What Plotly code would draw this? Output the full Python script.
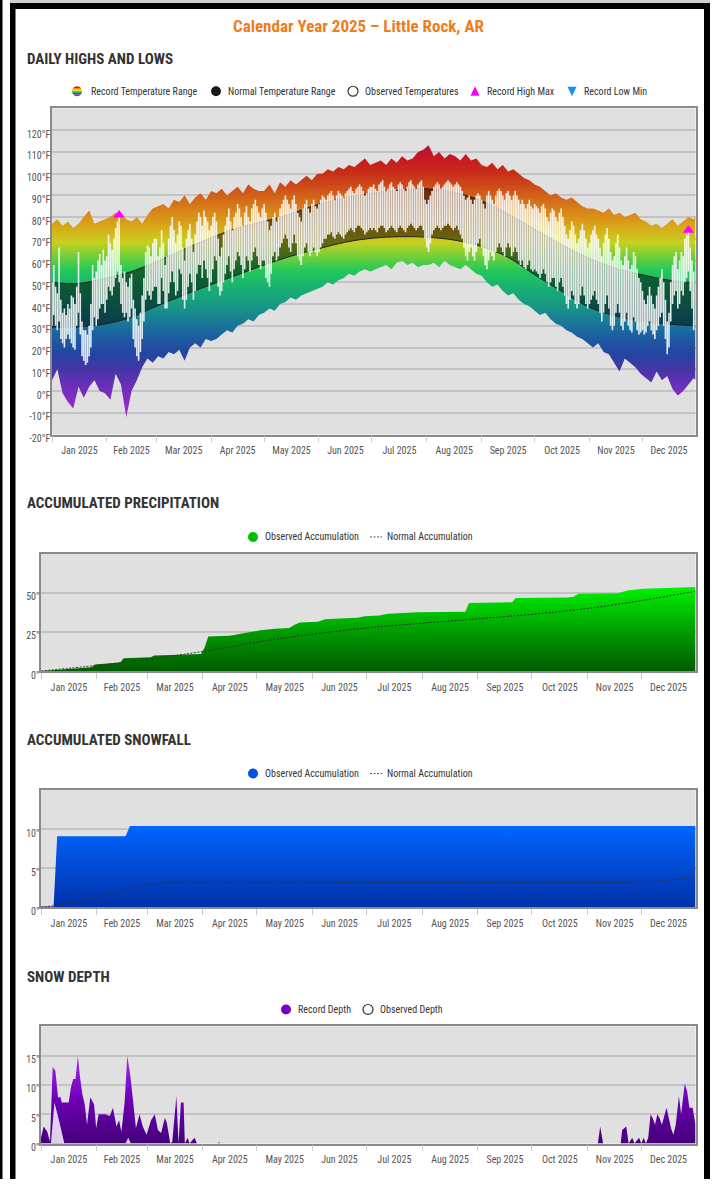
import numpy as np
import pandas as pd
import plotly.graph_objects as go

W, H = 714, 1189
FONT = "Roboto Condensed, Liberation Sans Narrow, DejaVu Sans Condensed, Roboto, sans-serif"

def px(x):
    return x / W

def py(y):
    return 1 - y / H

BASE = pd.Timestamp("2025-01-01")

def to_dates(days):
    return [BASE + pd.Timedelta(days=float(d)) for d in days]

# ---------------- DATA ----------------
# Observed daily highs / lows (deg F), Jan 1 .. Dec 31
obs_hi_jan = [50,58,48,45,66,42,36,38,35,40,38,44,43,40,48,64,45,32,28,28,26,30,40,58,52,55,60,63,58,65,60]
obs_lo_jan = [30,35,30,28,32,24,22,20,24,26,24,22,20,19,30,36,26,16,14,12,13,16,20,28,34,30,33,38,40,40,36]
obs_hi_feb = [62,72,68,65,70,75,78,81,58,52,55,50,48,52,54,42,38,33,30,36,44,52,64,67,66,62,68,70]
obs_lo_feb = [42,48,46,44,48,52,55,50,40,36,34,36,32,34,38,24,20,16,14,18,24,32,42,46,44,42,46,48]
obs_hi_mar = [70,62,66,74,68,58,62,70,76,80,74,68,72,78,76,66,60,70,74,77,70,64,72,78,82,80,76,83,80,78,74]
obs_lo_mar = [48,40,40,52,46,38,38,45,50,55,50,44,46,56,54,42,38,42,48,54,50,42,46,54,58,58,52,60,56,52,46]
obs_hi_apr = [76,80,82,78,70,62,66,72,76,80,84,78,74,80,82,86,84,80,76,82,85,80,78,84,86,88,85,82,80,84]
obs_lo_apr = [50,56,62,60,48,44,46,50,54,58,62,55,50,56,60,64,62,58,52,56,62,60,55,60,64,66,62,58,56,60]
obs_hi_may = [86,82,78,74,76,80,82,78,80,84,86,88,90,88,86,84,88,90,86,82,80,78,84,86,88,84,82,86,88,85,84]
obs_lo_may = [60,52,50,48,54,62,64,60,62,66,68,70,72,70,66,64,68,72,68,62,60,58,62,66,68,64,62,64,66,64,62]
obs_hi_jun = [86,88,90,89,88,90,91,92,90,88,90,92,91,90,89,91,92,93,94,92,91,93,94,95,94,92,90,91,93,94]
obs_lo_jun = [64,66,68,70,70,72,72,73,71,70,72,73,72,71,70,72,73,74,75,74,73,75,76,76,75,74,72,73,74,75]
obs_hi_jul = [94,95,93,92,95,96,97,94,92,93,95,96,94,93,92,95,96,95,93,92,94,96,97,95,94,93,95,96,97,94,88]
obs_lo_jul = [74,75,74,73,75,76,76,75,73,74,75,76,75,74,73,75,76,75,74,73,75,76,77,76,75,74,75,76,76,74,70]
obs_hi_aug = [86,88,90,92,94,95,96,95,93,94,95,96,97,96,95,94,95,96,95,94,92,90,88,89,90,88,86,88,90,91,90]
obs_lo_aug = [66,64,68,72,74,75,76,75,74,75,76,76,77,76,75,74,75,76,74,72,70,66,62,60,64,66,62,60,64,68,70]
obs_hi_sep = [88,86,84,90,92,90,88,86,90,92,93,92,90,88,91,92,90,88,90,92,90,88,86,88,86,84,86,88,85,84]
obs_lo_sep = [66,62,58,56,60,64,62,60,64,66,68,66,64,62,66,68,66,62,64,66,64,60,58,60,57,56,58,60,56,55]
obs_hi_oct = [86,85,84,82,85,86,84,80,78,82,84,83,80,78,82,84,80,76,72,70,74,78,76,72,68,70,74,77,74,70,66]
obs_lo_oct = [56,55,54,52,54,56,54,50,48,50,52,52,48,46,50,52,48,44,40,38,42,46,44,40,38,40,44,48,44,40,38]
obs_hi_nov = [68,72,74,76,72,70,66,62,68,72,75,70,64,60,62,68,72,66,60,58,62,66,60,56,58,64,62,56,52,50]
obs_lo_nov = [40,42,44,46,42,40,36,32,36,40,44,38,30,28,30,36,40,36,30,28,32,36,30,28,27,34,32,28,26,27]
obs_hi_dec = [46,42,40,44,48,44,40,38,44,48,52,56,50,42,32,36,50,58,62,64,56,60,64,62,70,72,74,66,60,55,50]
obs_lo_dec = [28,26,27,30,32,28,26,24,28,30,34,36,30,24,17,20,32,40,44,46,38,40,46,44,50,52,55,46,38,28,30]

# Record highs / lows, sampled every third day (day-of-year 0,3,...,363) plus Dec 31
rec_high = [77,79,76,78,75,77,80,83,77,78,79,
            80,82,81,79,78,80,77,81,84,
            85,86,84,88,87,90,86,89,91,88,92,
            91,93,90,92,94,91,95,93,92,
            92,95,91,96,94,97,95,97,99,97,100,
            100,102,101,103,102,104,103,105,107,104,
            105,106,104,107,105,108,106,107,110,111,
            113,108,110,107,109,108,106,109,106,107,
            104,103,105,102,104,101,102,100,98,97,
            95,94,92,90,91,89,88,89,87,85,84,
            84,83,82,84,81,82,80,81,82,79,
            78,76,77,75,77,79,76,78,80,79,
            80]
rec_low = [5,10,-1,-5,-8,2,-3,2,5,0,-1,
           -4,8,3,-12,0,5,11,15,13,
           16,15,18,17,19,14,20,22,20,24,23,
           24,26,28,27,30,31,33,32,35,
           36,38,37,40,41,43,42,44,45,46,47,
           48,50,49,51,52,54,53,55,56,55,
           56,57,58,56,59,60,58,59,57,58,
           58,59,57,60,58,57,56,58,56,54,
           53,50,48,49,46,44,45,42,40,39,
           37,35,36,33,31,30,28,27,25,24,22,
           20,22,18,17,13,9,15,13,11,8,
           6,4,9,5,7,1,-2,0,3,6,
           5]
rec_days = list(range(0, 364, 3)) + [364]

# Normal highs / lows (smooth curves)
norm_days = [0,15,31,45,59,74,90,105,120,135,151,166,181,196,212,227,243,258,273,288,304,319,334,349,364]
norm_high = [50,49.5,52,55,59.5,65,70.5,75,78,81.5,86,89,91,92.5,93,91.5,87.5,81.5,74.5,67.5,61,56.5,53.5,51,49.8]
norm_low = [29.5,29.5,31,34,39,44,49,53.5,58,62,65.5,68.5,70.3,71,70.8,69.5,66.5,61.5,53.5,46,38.5,34.5,32,30.8,30]

# Record High Max markers
rhm_dates = ["2025-02-08", "2025-12-27"]
rhm_vals = [81, 74]

# Accumulated precipitation (inches)
precip_days = [0,28,30,37,44,46,61,63,75,89,91,93,105,110,116,122,130,138,141,144,154,158,166,176,180,188,193,209,236,238,262,264,293,296,299,321,326,335,364]
precip_obs = [0,2.4,4.1,5.0,5.5,8.2,8.8,9.9,10.4,10.8,15,22,22.5,23.5,24.5,26,27,27.5,29.5,31,31.5,33,33.6,34,35,35.5,36.5,37.6,37.8,43.4,44,46.6,47,47.5,49.4,49.6,51.5,52.5,53.6]
precip_norm_days = [0,31,59,90,120,151,181,212,243,273,304,334,364]
precip_norm = [0,3.6,7.4,12.5,18.5,23.5,27.5,30.5,33.4,36.2,40,45,51]

# Accumulated snowfall (inches)
snow_days = [0,7,9,47,49.5,364]
snow_obs = [0.1,0.1,9.1,9.1,10.4,10.4]
snow_norm_days = [0,15,31,45,59,75,90,334,349,364]
snow_norm = [0,0.5,1.3,2.2,2.9,3.2,3.25,3.25,3.5,3.8]

# Snow depth (inches)
depth_rec_days = [0,1.5,3.5,5,6.5,8,9.5,10.8,11.5,15.4,16.6,17.9,19.2,20.5,21.7,23,24.3,25.6,27.4,29.5,30.7,32,35.8,38.3,40,42,43.4,44.7,46.5,48,49.8,51.5,52.8,54.8,56.6,58.7,61.2,63.3,65,66.8,68.9,70,71.9,73,75.3,76.5,77.8,79.3,80,81.6,82.6,85.4,86.7,98.5,99,99.5,309.7,311,312.6,322.4,323.2,325.5,326.8,328.8,330.1,332.6,333.9,335.2,336.4,337.7,339,340.3,341.5,342.8,344.1,345.3,347.9,349.2,350.4,351.7,353,354.8,356,358,359.3,360.6,362.4,364]
depth_rec = [1,2.9,2,0.3,13.1,12.4,7.8,8,7,7,9.5,11,11,15,11.3,8.4,6.7,3.2,7.9,6.7,2.6,5,5,4.7,6.1,2.9,4,2,7,15,11.3,6.1,2.6,5,2.9,1.5,4,5,2.3,1.8,4.4,3.5,0,0.3,8.1,0,7,7,0,1,0,1,0,0,0.3,0,0,2.9,0,0,2.3,2.9,0,1,0,1,0,1,0,1,5,4.3,3.2,5,4.3,3.2,6.1,4.3,2.6,1.5,3.2,8.1,5,10.2,9,6.1,6.1,3.2]
depth_obs_days = [5.5,7.5,10,13,47,48.5,50]
depth_obs = [0,7,4,0,0,1,0]

# ---------------- FIGURE ----------------
obs_hi = (obs_hi_jan + obs_hi_feb + obs_hi_mar + obs_hi_apr + obs_hi_may + obs_hi_jun +
          obs_hi_jul + obs_hi_aug + obs_hi_sep + obs_hi_oct + obs_hi_nov + obs_hi_dec)
obs_lo = (obs_lo_jan + obs_lo_feb + obs_lo_mar + obs_lo_apr + obs_lo_may + obs_lo_jun +
          obs_lo_jul + obs_lo_aug + obs_lo_sep + obs_lo_oct + obs_lo_nov + obs_lo_dec)
n = min(len(obs_hi), len(obs_lo))
obs_dates = pd.date_range("2025-01-01", periods=n, freq="D")

fig = go.Figure()

temp_scale = [
    [0.000, "#9b30d0"], [0.080, "#7a2cc0"], [0.160, "#4a34a8"], [0.224, "#2444a0"],
    [0.304, "#1a66a0"], [0.384, "#17908a"], [0.464, "#18b070"], [0.528, "#22c85a"],
    [0.584, "#78d038"], [0.632, "#c8d020"], [0.688, "#d8a818"], [0.752, "#d88018"],
    [0.816, "#d05818"], [0.880, "#c83018"], [0.936, "#c81820"], [1.000, "#b01050"]]

rx = to_dates(rec_days)
m = min(len(rx), len(rec_high), len(rec_low))
fig.add_trace(go.Scatter(x=rx[:m], y=rec_low[:m], mode="lines", line=dict(width=0),
                         xaxis="x", yaxis="y", showlegend=False, hoverinfo="skip"))
fig.add_trace(go.Scatter(x=rx[:m], y=rec_high[:m], mode="lines", line=dict(width=0),
                         fill="tonexty",
                         fillgradient=dict(type="vertical", start=-10, stop=115, colorscale=temp_scale),
                         xaxis="x", yaxis="y", showlegend=False, hoverinfo="skip"))

nx = to_dates(norm_days)
fig.add_trace(go.Scatter(x=nx, y=norm_low, mode="lines",
                         line=dict(width=1, color="#222222", shape="spline", smoothing=1),
                         xaxis="x", yaxis="y", showlegend=False, hoverinfo="skip"))
fig.add_trace(go.Scatter(x=nx, y=norm_high, mode="lines",
                         line=dict(width=1, color="#222222", shape="spline", smoothing=1),
                         fill="tonexty", fillcolor="rgba(0,0,0,0.5)",
                         xaxis="x", yaxis="y", showlegend=False, hoverinfo="skip"))

# observed daily range: vertical segments low->high (drawn as a scatter so it sits above the fills)
seg_x, seg_y = [], []
for d, h, l in zip(obs_dates, obs_hi[:n], obs_lo[:n]):
    seg_x += [d, d, None]
    seg_y += [l, h, None]
fig.add_trace(go.Scatter(x=seg_x, y=seg_y, mode="lines",
                         line=dict(width=1.6, color="rgba(255,255,255,0.88)"),
                         connectgaps=False, xaxis="x", yaxis="y", showlegend=False, hoverinfo="skip"))

fig.add_trace(go.Scatter(x=rhm_dates, y=rhm_vals, mode="markers",
                         marker=dict(symbol="triangle-up", size=10, color="#ff00ff"),
                         xaxis="x", yaxis="y", showlegend=False, hoverinfo="skip"))

# Precipitation
fig.add_trace(go.Scatter(x=to_dates(precip_days), y=precip_obs, mode="lines", line=dict(width=0),
                         fill="tozeroy",
                         fillgradient=dict(type="vertical", start=0, stop=54,
                                           colorscale=[[0, "#005a00"], [0.5, "#00a000"], [1, "#00f400"]]),
                         xaxis="x2", yaxis="y2", showlegend=False, hoverinfo="skip"))
fig.add_trace(go.Scatter(x=to_dates(precip_norm_days), y=precip_norm, mode="lines",
                         line=dict(width=1, color="#333333", dash="2px,1.5px", shape="spline"),
                         xaxis="x2", yaxis="y2", showlegend=False, hoverinfo="skip"))

# Snowfall
fig.add_trace(go.Scatter(x=to_dates(snow_days), y=snow_obs, mode="lines", line=dict(width=0),
                         fill="tozeroy",
                         fillgradient=dict(type="vertical", start=0, stop=10.4,
                                           colorscale=[[0, "#0030a8"], [1, "#0066ff"]]),
                         xaxis="x3", yaxis="y3", showlegend=False, hoverinfo="skip"))
fig.add_trace(go.Scatter(x=to_dates(snow_norm_days), y=snow_norm, mode="lines",
                         line=dict(width=1, color="#333333", dash="2px,1.5px", shape="spline"),
                         xaxis="x3", yaxis="y3", showlegend=False, hoverinfo="skip"))

# Snow depth
fig.add_trace(go.Scatter(x=to_dates(depth_rec_days), y=depth_rec, mode="lines", line=dict(width=0),
                         fill="tozeroy",
                         fillgradient=dict(type="vertical", start=0, stop=15,
                                           colorscale=[[0, "#440078"], [0.5, "#6c00b4"], [1, "#a626f2"]]),
                         xaxis="x4", yaxis="y4", showlegend=False, hoverinfo="skip"))
fig.add_trace(go.Scatter(x=to_dates(depth_obs_days), y=depth_obs, mode="lines", line=dict(width=0),
                         fill="tozeroy", fillcolor="rgba(236,226,246,0.92)",
                         xaxis="x4", yaxis="y4", showlegend=False, hoverinfo="skip"))

# ---------------- AXES ----------------
def xax(x0, x1, anchor):
    return dict(domain=[px(x0), px(x1)], anchor=anchor, type="date",
                range=["2025-01-01", "2025-12-31"], dtick="M1", tick0="2025-01-01",
                ticklabelmode="period", tickformat="%b %Y",
                ticks="outside", ticklen=6, tickcolor="#cccccc", tickwidth=1,
                showgrid=False, showline=True, linecolor="#8a8a8a", linewidth=1.5, mirror=True,
                zeroline=False, tickfont=dict(family=FONT, size=10, color="#555555"),
                fixedrange=True)

def yax(y0, y1, anchor, rng, vals, suffix):
    return dict(domain=[py(y1), py(y0)], anchor=anchor, range=rng, tickmode="array",
                tickvals=vals, ticktext=[f"{v}{suffix}" for v in vals],
                showgrid=True, gridcolor="#c3c3c3", gridwidth=1.5,
                zeroline=False, showline=True, linecolor="#8a8a8a", linewidth=1.5, mirror=True,
                ticks="", tickfont=dict(family=FONT, size=10, color="#555555"),
                ticklabelshift=4, ticklabelstandoff=-2, fixedrange=True)

c1 = (52, 695.5, 109.3, 438.3)
c2 = (41, 695.5, 558.3, 676.7)
c3 = (41, 695.5, 796.7, 915.0)
c4 = (41, 695.5, 1035.0, 1153.3)

fig.update_layout(
    xaxis=xax(c1[0], c1[1], "y"),
    yaxis=yax(c1[2], c1[3], "x", [-20, 130], list(range(-20, 121, 10)), "°F"),
    xaxis2=xax(c2[0], c2[1], "y2"),
    yaxis2=yax(c2[2], c2[3], "x2", [0, 75], [0, 25, 50], '"'),
    xaxis3=xax(c3[0], c3[1], "y3"),
    yaxis3=yax(c3[2], c3[3], "x3", [0, 15], [0, 5, 10], '"'),
    xaxis4=xax(c4[0], c4[1], "y4"),
    yaxis4=yax(c4[2], c4[3], "x4", [0, 20], [0, 5, 10, 15], '"'),
)

# ---------------- DECORATION ----------------
shapes = []
annotations = []

def rect(x0, y0, x1, y1, color):
    shapes.append(dict(type="rect", xref="paper", yref="paper", x0=px(x0), x1=px(x1),
                       y0=py(y1), y1=py(y0), fillcolor=color, line=dict(width=0), layer="above"))

# page frame
rect(10, 0, 710, 3, "#d0d0d0")
rect(10, 3, 710, 9, "#000000")
rect(10, 3, 15.5, H, "#000000")
rect(704, 3, 710, H, "#000000")
rect(0, 0, 2.5, H, "#000000")

def text(x, y, s, size=10, color="#333333", anchor="left", bold=False):
    annotations.append(dict(x=px(x), y=py(y), xref="paper", yref="paper", text=(f"<b>{s}</b>" if bold else s),
                            showarrow=False, xanchor=anchor, yanchor="middle",
                            font=dict(family=FONT, size=size, color=color)))

def circle(cx, cy, r, fill, line_color=None, lw=0):
    shapes.append(dict(type="circle", xref="paper", yref="paper",
                       x0=px(cx - r), x1=px(cx + r), y0=py(cy + r), y1=py(cy - r),
                       fillcolor=fill, line=dict(width=lw, color=line_color or fill), layer="above"))

def poly(pts, fill):
    path = "M " + " L ".join(f"{px(a):.5f},{py(b):.5f}" for a, b in pts) + " Z"
    shapes.append(dict(type="path", xref="paper", yref="paper", path=path,
                       fillcolor=fill, line=dict(width=0), layer="above"))

def rainbow_circle(cx, cy, r, colors):
    k = len(colors)
    for i, col in enumerate(colors):
        a = -r + 2 * r * i / k
        b = -r + 2 * r * (i + 1) / k
        ys = np.linspace(a, b, 8)
        left = [(cx - np.sqrt(max(r * r - t * t, 0)), cy + t) for t in ys]
        right = [(cx + np.sqrt(max(r * r - t * t, 0)), cy + t) for t in ys[::-1]]
        poly(left + right, col)

# titles
text(359, 26.5, "Calendar Year 2025 – Little Rock, AR", size=17, color="#f07d1a", anchor="center", bold=True)
text(25, 59, "DAILY HIGHS AND LOWS", size=15, color="#333333", bold=True)
text(25, 507.5, "ACCUMULATED PRECIPITATION", size=15, color="#333333", bold=True)
text(25, 746, "ACCUMULATED SNOWFALL", size=15, color="#333333", bold=True)
text(25, 985, "SNOW DEPTH", size=15, color="#333333", bold=True)

# legend 1
ly = 92
rainbow_circle(77, ly, 5, ["#d42020", "#f08a10", "#e8d020", "#20c050", "#2050d0", "#8a2be2"])
text(89, ly, "Record Temperature Range")
circle(216, ly, 5, "#1a1a1a")
text(226, ly, "Normal Temperature Range")
circle(353, ly, 5, "#ffffff", "#333333", 1.2)
text(363, ly, "Observed Temperatures")
poly([(470.5, ly + 4.5), (479.5, ly + 4.5), (475, ly - 5)], "#ff00ff")
text(485, ly, "Record High Max")
poly([(567.5, ly - 4.5), (576.5, ly - 4.5), (572, ly + 5)], "#1e8cff")
text(582, ly, "Record Low Min")

# legend 2 & 3
for yy, col in [(541.5, "#00c000"), (780, "#0050e8")]:
    circle(253, yy, 5, col)
    text(263, yy, "Observed Accumulation")
    shapes.append(dict(type="line", xref="paper", yref="paper", x0=px(370), x1=px(382),
                       y0=py(yy), y1=py(yy), line=dict(color="#555555", width=1, dash="2px,1.5px"),
                       layer="above"))
    text(385, yy, "Normal Accumulation")

# legend 4
ly4 = 1018
circle(286, ly4, 5, "#7a00c8")
text(296, ly4, "Record Depth")
circle(368, ly4, 5, "#ffffff", "#333333", 1.2)
text(378, ly4, "Observed Depth")

fig.update_layout(
    width=W, height=H, margin=dict(l=0, r=0, t=0, b=0),
    paper_bgcolor="#ffffff", plot_bgcolor="#e0e0e0",
    shapes=shapes, annotations=annotations, showlegend=False,
    font=dict(family=FONT),
)

fig.write_html("out.html", config={"displayModeBar": False})

# remove the browser's default page margin so the figure sits at the page origin
with open("out.html", "r", encoding="utf-8") as f:
    html = f.read()
html = html.replace("<head>", "<head><style>html,body{margin:0;padding:0;overflow:hidden;}</style>", 1)
with open("out.html", "w", encoding="utf-8") as f:
    f.write(html)
